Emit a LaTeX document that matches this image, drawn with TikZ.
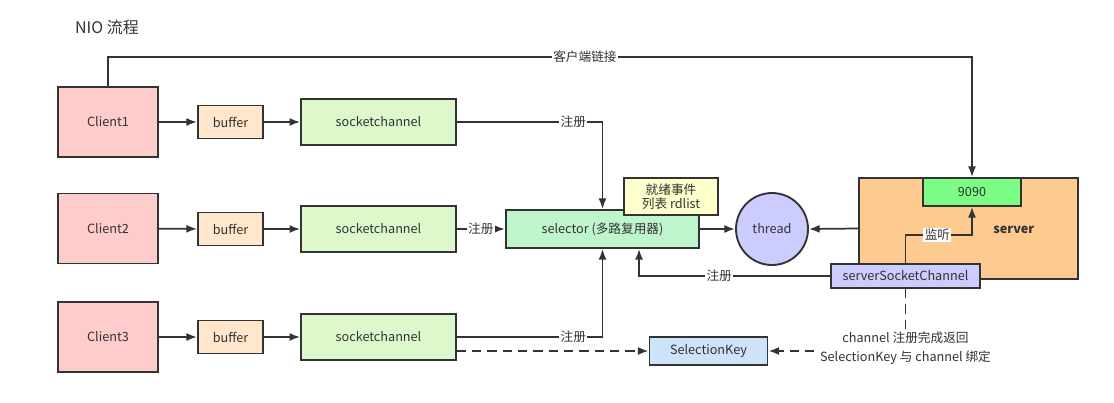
\documentclass[tikz,border=0pt]{standalone}
\usepackage{fontspec}
\setmainfont{Noto Sans CJK SC}
\usetikzlibrary{arrows.meta}
\definecolor{clientpink}{HTML}{FFCCCC}
\definecolor{bufferpeach}{HTML}{FFE6CC}
\definecolor{sockgreen}{HTML}{DDF9CC}
\definecolor{selgreen}{HTML}{BFF5CC}
\definecolor{readyyellow}{HTML}{FFFFCC}
\definecolor{threadpurple}{HTML}{CCCCFF}
\definecolor{serverorange}{HTML}{FDCB90}
\definecolor{portgreen}{HTML}{7CFC84}
\definecolor{keyblue}{HTML}{CCE3FA}
\definecolor{ink}{HTML}{333333}
\begin{document}
\begin{tikzpicture}[x=0.75pt,y=-0.75pt,
box/.style={draw=ink,line width=1.4pt,inner sep=2pt,font=\fontsize{9.5}{11}\selectfont,text=ink},
client/.style={box,fill=clientpink,minimum width=75pt,minimum height=52.5pt},
buf/.style={box,fill=bufferpeach,minimum width=48.75pt,minimum height=24.75pt},
sock/.style={box,fill=sockgreen,minimum width=116pt,minimum height=34.5pt},
sel/.style={box,fill=selgreen,minimum width=145pt,minimum height=28.5pt},
ready/.style={box,fill=readyyellow,minimum width=70.5pt,minimum height=27.75pt,align=center,font=\fontsize{9.5}{10.5}\selectfont},
thr/.style={box,circle,fill=threadpurple,minimum size=54pt},
srv/.style={box,fill=serverorange,minimum width=164pt,minimum height=75.75pt},
port/.style={box,fill=portgreen,minimum width=73.5pt,minimum height=21pt},
ssc/.style={box,fill=threadpurple,minimum width=112pt,minimum height=18pt},
key/.style={box,fill=keyblue,minimum width=88.5pt,minimum height=21pt},
arr/.style={draw=ink,line width=1.3pt,-{Latex[length=8pt,width=6pt]}},
dasharr/.style={arr,dash pattern=on 7pt off 4.5pt},
lab/.style={fill=white,inner sep=1pt,font=\fontsize{9.5}{11}\selectfont,text=ink}
]
\useasboundingbox (0,0) rectangle (1114,403);
\node[font=\fontsize{12}{14}\selectfont,text=ink] (title) at (107,27) {NIO 流程};
% clients
\node[client] (c1) at (108,122) {Client1};
\node[client] (c2) at (108,228.5) {Client2};
\node[client] (c3) at (108,337) {Client3};
\node[buf] (b1) at (230.5,122) {buffer};
\node[buf] (b2) at (230.5,229) {buffer};
\node[buf] (b3) at (230.5,337) {buffer};
\node[sock] (s1) at (378.5,122) {socketchannel};
\node[sock] (s2) at (378.5,229) {socketchannel};
\node[sock] (s3) at (378.5,337) {socketchannel};
% selector and thread
\node[sel] (sel) at (602.5,229) {selector (多路复用器)};
\node[ready] (ready) at (671,196.5) {就绪事件\\列表 rdlist};
\node[thr] (thread) at (772,229) {thread};
% server side
\node[srv,label={[font=\fontsize{9.5}{11}\selectfont\bfseries,text=ink,xshift=34pt,yshift=-1pt]center:server}] (server) at (968.5,228.5) {};
\node[port] (p9090) at (972,192) {9090};
\node[ssc] (ssc) at (905.5,276) {serverSocketChannel};
\node[key] (sk) at (708.5,351) {SelectionKey};
\coordinate (ytop) at (0,57);
\coordinate (ylis) at (0,235);
% connectors
\draw[arr] (c1) -- (b1);
\draw[arr] (b1) -- (s1);
\draw[arr] (c2) -- (b2);
\draw[arr] (b2) -- (s2);
\draw[arr] (c3) -- (b3);
\draw[arr] (b3) -- (s3);
\draw[arr] (c1.north) |- node[lab,pos=0.776]{客户端链接} (p9090.north |- ytop) -- (p9090.north);
\draw[arr] (s1.east) -| node[lab,pos=0.4]{注册} (sel.north);
\draw[arr] (s2.east) -- node[lab]{注册} (sel.west);
\draw[arr] (s3.east) -| node[lab,pos=0.4]{注册} (sel.south);
\draw[arr] (sel.east) -- (thread.west);
\draw[arr] (server.west) -- (thread.east);
\draw[arr] (ssc.west) -| node[lab,pos=0.29]{注册} ([xshift=27.4pt]sel.south);
\draw[arr] (ssc.north) |- node[lab,pos=0.74]{监听} (p9090.south |- ylis) -- (p9090.south);
\draw[dasharr] (s3.east |- sk.west) -- (sk.west);
\draw[dasharr] (ssc.south) |- node[lab,pos=0.5,align=center,inner sep=2pt,font=\fontsize{9.5}{14}\selectfont,yshift=2pt]{channel 注册完成返回\\SelectionKey 与 channel 绑定} (sk.east);
\end{tikzpicture}
\end{document}
